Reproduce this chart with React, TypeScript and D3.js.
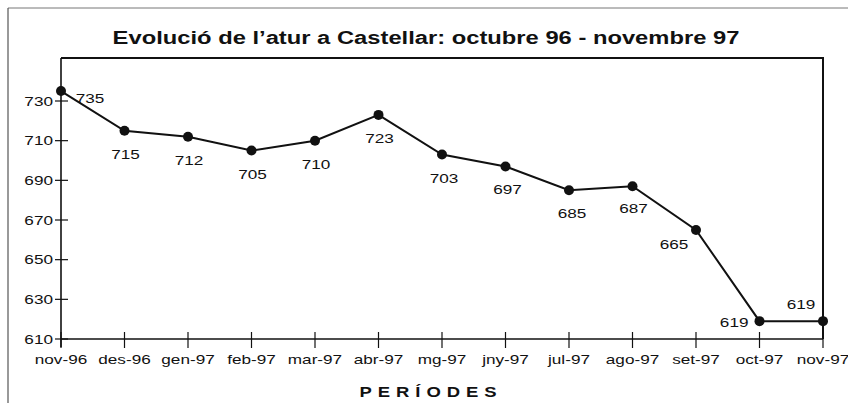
import * as d3 from "d3";
import { useEffect, useRef } from "react";

// periods and registered unemployed
const periods = [
  "nov-96", "des-96", "gen-97", "feb-97", "mar-97", "abr-97", "mg-97",
  "jny-97", "jul-97", "ago-97", "set-97", "oct-97", "nov-97",
];
const values = [735, 715, 712, 705, 710, 723, 703, 697, 685, 687, 665, 619, 619];
const yTicks = [610, 630, 650, 670, 690, 710, 730];

// where each value label sits relative to its point: [dx, dy, anchor]
const labelPlace: [number, number, string][] = [
  [29, 12, "middle"], [1, 28, "middle"], [1, 28, "middle"], [1, 28, "middle"],
  [1, 28, "middle"], [1, 28, "middle"], [2, 28, "middle"], [2, 28, "middle"],
  [3, 28, "middle"], [1, 27, "middle"], [-22, 19, "middle"], [-11, 6, "end"],
  [-22, -12, "middle"],
];

const W = 848, H = 403;
const FONT = "'Liberation Sans', Arial, Helvetica, sans-serif";
const SX = 1.32; // the scan is stretched sideways

const App = () => {
  const ref = useRef<SVGSVGElement>(null);

  useEffect(() => {
    const svg = d3.select(ref.current);
    svg.selectAll("*").remove();

    const left = 61, right = 823, top = 58, bottom = 339;

    const x = d3.scalePoint<string>().domain(periods).range([left, right]);
    const y = d3.scaleLinear().domain([610, 730]).range([bottom, 101]);

    const text = (tx: number, ty: number, s: string, size: number, anchor = "middle", weight = "normal", spacing = 0) =>
      svg.append("text")
        .attr("transform", `translate(${tx},${ty}) scale(${SX},1)`)
        .attr("text-anchor", anchor)
        .attr("font-family", FONT)
        .attr("font-size", size)
        .attr("font-weight", weight)
        .attr("letter-spacing", spacing)
        .attr("fill", "#111")
        .text(s);

    // outer frame (only top and left survived in the scan)
    svg.append("line").attr("x1", 8).attr("x2", W).attr("y1", 8).attr("y2", 8)
      .attr("stroke", "#777").attr("stroke-width", 1);
    svg.append("line").attr("x1", 8).attr("x2", 8).attr("y1", 8).attr("y2", H)
      .attr("stroke", "#555").attr("stroke-width", 1.2);

    // title
    text(426, 44, "Evolució de l’atur a Castellar: octubre 96 - novembre 97", 18, "middle", "bold");

    // plot box
    svg.append("path")
      .attr("d", `M${left},${top}H${right}V${bottom}`)
      .attr("fill", "none").attr("stroke", "#111").attr("stroke-width", 2);
    svg.append("line").attr("x1", left).attr("x2", left).attr("y1", top).attr("y2", bottom + 8)
      .attr("stroke", "#111").attr("stroke-width", 1.6);
    svg.append("line").attr("x1", left).attr("x2", right).attr("y1", bottom).attr("y2", bottom)
      .attr("stroke", "#111").attr("stroke-width", 1.6);

    // y ticks cross the axis
    yTicks.forEach((v) => {
      svg.append("line").attr("x1", left - 6).attr("x2", left + 7).attr("y1", y(v)).attr("y2", y(v))
        .attr("stroke", "#111").attr("stroke-width", 1.2);
      text(53, y(v) + 4.5, String(v), 13, "end");
    });

    // x ticks
    periods.forEach((p) => {
      const px = x(p)!;
      svg.append("line").attr("x1", px).attr("x2", px).attr("y1", bottom - 7).attr("y2", bottom + 9)
        .attr("stroke", "#111").attr("stroke-width", 1.2);
      text(px, 364, p, 13);
    });

    text(431, 397, "PERÍODES", 14, "middle", "bold", 4.5);

    // the series
    const pts = periods.map((p, i) => ({ p, v: values[i] }));
    const line = d3.line<{ p: string; v: number }>().x((d) => x(d.p)!).y((d) => y(d.v));
    svg.append("path").datum(pts)
      .attr("fill", "none").attr("stroke", "#111").attr("stroke-width", 2)
      .attr("d", line);

    svg.selectAll("circle.dot").data(pts).enter().append("circle")
      .attr("class", "dot")
      .attr("cx", (d) => x(d.p)!).attr("cy", (d) => y(d.v)).attr("r", 5)
      .attr("fill", "#111");

    pts.forEach((d, i) => {
      const [dx, dy, anchor] = labelPlace[i];
      text(x(d.p)! + dx, y(d.v) + dy, String(d.v), 13, anchor);
    });
  }, []);

  return (
    <svg ref={ref} width={W} height={H} viewBox={`0 0 ${W} ${H}`}
      style={{ position: "absolute", left: 0, top: 0, background: "#fff" }} />
  );
};

export default App;
